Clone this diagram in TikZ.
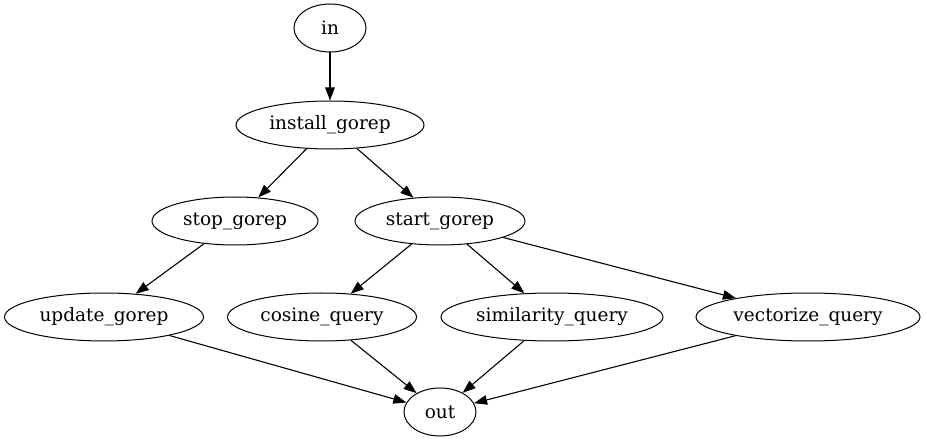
\documentclass[tikz,border=0pt]{standalone}
\usepackage{fontspec}
\setmainfont{DejaVu Serif}
\usetikzlibrary{shapes.geometric,arrows.meta}
\tikzset{
  gnode/.style={ellipse, draw, line width=1pt, inner sep=0pt, minimum height=48pt,
    font=\fontsize{18.5}{20}\selectfont},
  gedge/.style={line width=1.1pt, -{Triangle[length=13pt,width=9.5pt]}}
}
\begin{document}
\begin{tikzpicture}[x=1pt,y=-1pt]
\useasboundingbox (0,0) rectangle (927,443);
\node[gnode, minimum width=72pt]  (in)   at (330,28)  {in};
\node[gnode, minimum width=188pt] (inst) at (330,125) {install\_gorep};
\node[gnode, minimum width=166pt] (stop) at (235,221) {stop\_gorep};
\node[gnode, minimum width=170pt] (start) at (440,221) {start\_gorep};
\node[gnode, minimum width=199pt] (upd)  at (104,317) {update\_gorep};
\node[gnode, minimum width=189pt] (cos)  at (322,317) {cosine\_query};
\node[gnode, minimum width=222pt] (sim)  at (552,317) {similarity\_query};
\node[gnode, minimum width=224pt] (vec)  at (808,317) {vectorize\_query};
\node[gnode, minimum width=72pt]  (out)  at (440,412) {out};
\draw[gedge] (in) -- (inst);
\draw[gedge] (inst) -- (stop);
\draw[gedge] (inst) -- (start);
\draw[gedge] (stop) -- (upd);
\draw[gedge] (start) -- (cos);
\draw[gedge] (start) -- (sim);
\draw[gedge] (start) -- (vec);
\draw[gedge] (upd) -- (out);
\draw[gedge] (cos) -- (out);
\draw[gedge] (sim) -- (out);
\draw[gedge] (vec) -- (out);
\end{tikzpicture}
\end{document}
